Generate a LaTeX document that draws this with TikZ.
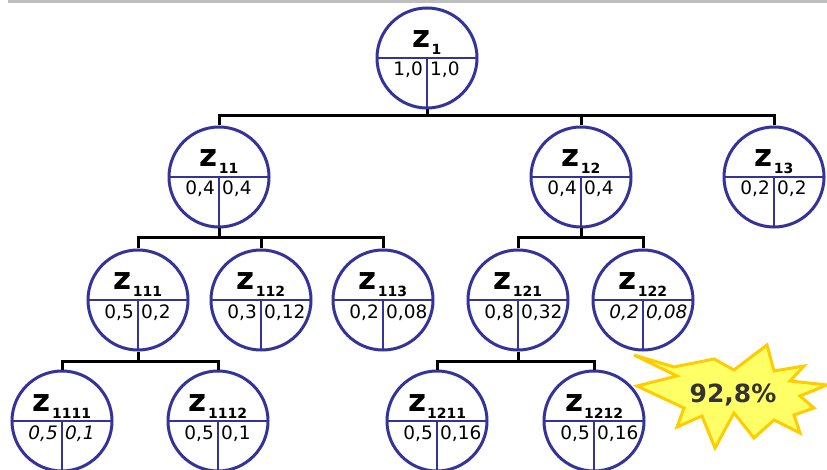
\documentclass[tikz,border=0pt]{standalone}
\usepackage{fontspec}
\setmainfont{DejaVu Sans}
\usetikzlibrary{calc}
\definecolor{knotblue}{RGB}{51,51,153}
\definecolor{staryellow}{RGB}{255,255,102}
\definecolor{stargold}{RGB}{255,204,0}
\definecolor{pctgray}{RGB}{51,51,51}
\definecolor{topgray}{RGB}{190,190,190}
\newcommand{\subfont}{\fontsize{14}{14}\selectfont\bfseries}
% one tree node: name, x, y, index, left value, right value
\newcommand{\zknot}[6]{%
	\node[knot] (#1) at (#2,#3) {};
	\draw[chord] (#1.west) -- (#1.east);
	\draw[chord] (#1.center) -- (#1.south);
	\node[zlab] (#1-z) at (#2,#3-10) {z\hspace{1pt}\raisebox{-7pt}{\subfont #4}};
	\node[val, anchor=base east] (#1-l) at (#2-4,#3+18) {#5};
	\node[val, anchor=base west] (#1-r) at (#2+3,#3+18) {#6};
}

\begin{document}
\begin{tikzpicture}[x=1pt, y=-1pt,
	knot/.style={circle, draw=knotblue, line width=3pt, fill=white,
		minimum size=100pt, inner sep=0pt, outer sep=0pt},
	chord/.style={knotblue, line width=2.8pt},
	zlab/.style={font=\fontsize{31}{31}\selectfont\bfseries, anchor=base, inner sep=0pt},
	val/.style={font=\fontsize{18.5}{18.5}\selectfont, inner sep=0pt},
	link/.style={black, line width=3pt, shorten <=1.5pt, shorten >=1.5pt}]
	\useasboundingbox (0,0) rectangle (827,470);
	\fill[topgray] (8,0) rectangle (827,3.5);
	\zknot{z1}{427}{58}{1}{1,0}{1,0}
	\zknot{z11}{219}{177}{11}{0,4}{0,4}
	\zknot{z12}{581}{177}{12}{0,4}{0,4}
	\zknot{z13}{774}{177}{13}{0,2}{0,2}
	\zknot{z111}{138}{300}{111}{0,5}{0,2}
	\zknot{z112}{261}{300}{112}{0,3}{0,12}
	\zknot{z113}{383}{300}{113}{0,2}{0,08}
	\zknot{z121}{518}{300}{121}{0,8}{0,32}
	\zknot{z122}{643}{300}{122}{\itshape 0,2}{\itshape 0,08}
	\zknot{z1111}{62}{421}{1111}{\itshape 0,5}{\itshape 0,1}
	\zknot{z1112}{218}{421}{1112}{0,5}{0,1}
	\zknot{z1211}{437}{421}{1211}{0,5}{0,16}
	\zknot{z1212}{594}{421}{1212}{0,5}{0,16}
	\foreach \c in {z11,z12,z13}
		\draw[link] (z1.south) -- ++(0,8) -| (\c.north);
	\foreach \c in {z111,z112,z113}
		\draw[link] (z11.south) -- ++(0,11) -| (\c.north);
	\foreach \c in {z121,z122}
		\draw[link] (z12.south) -- ++(0,11) -| (\c.north);
	\foreach \c in {z1111,z1112}
		\draw[link] (z111.south) -- ++(0,11) -| (\c.north);
	\foreach \c in {z1211,z1212}
		\draw[link] (z121.south) -- ++(0,11) -| (\c.north);
	% burst
	\draw[stargold, fill=staryellow, line width=3pt, line join=miter]
		(634,355) -- (674,367) -- (714,359) -- (734,370) -- (767,345) -- (774,371)
		-- (804,366) -- (790,381) -- (827,385) -- (800,396) -- (814,408) -- (794,415)
		-- (800,433) -- (774,420) -- (754,438) -- (734,413) -- (715,448) -- (702,416)
		-- (677,427) -- (684,408) -- (637,386) -- (677,376) -- cycle;
	\node[font=\fontsize{25}{25}\selectfont\bfseries, text=pctgray] (pct) at (733,395) {92,8\%};
\end{tikzpicture}
\end{document}
